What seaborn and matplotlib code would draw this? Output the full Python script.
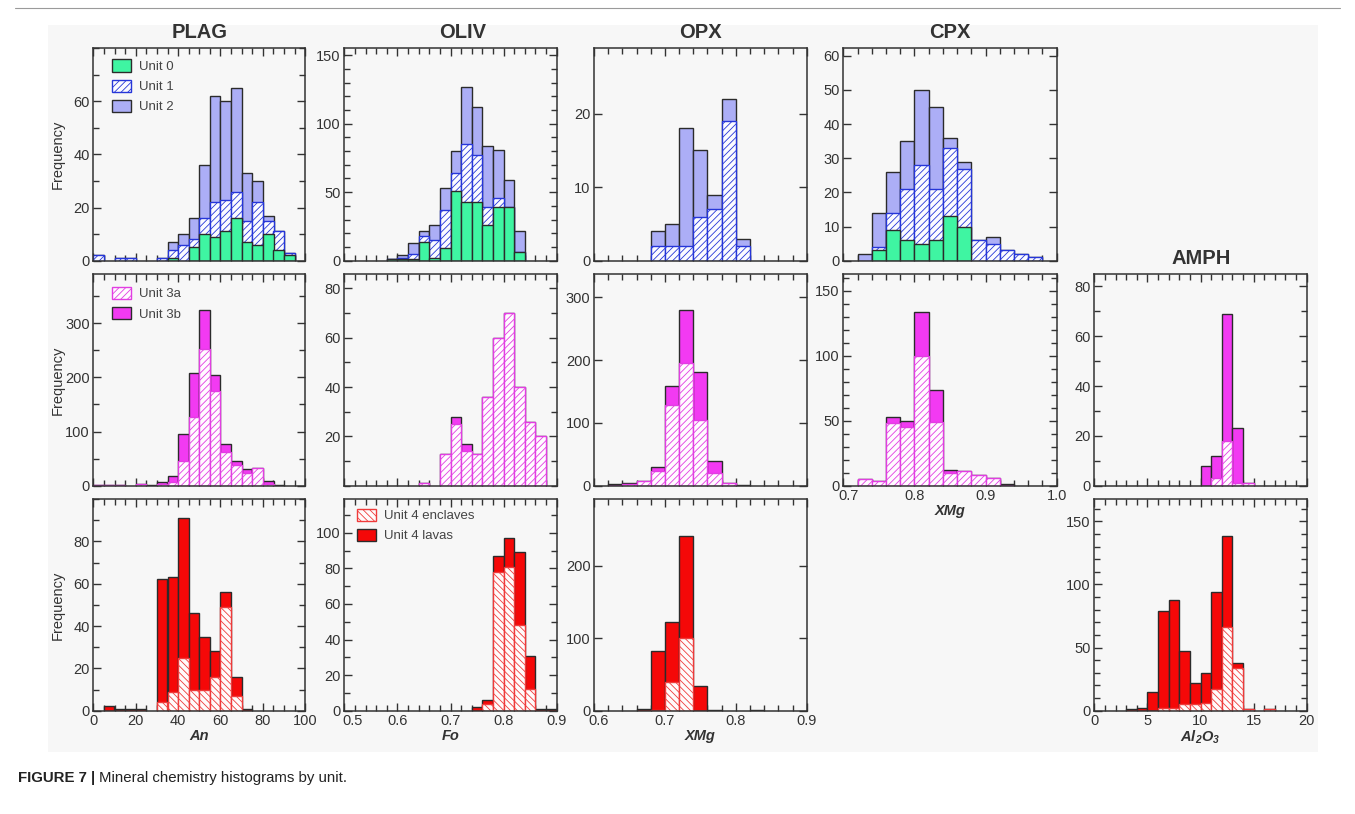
import numpy as np
import pandas as pd
import matplotlib
matplotlib.use("Agg")
import matplotlib.pyplot as plt
import seaborn as sns
from matplotlib.patches import Patch, Rectangle
from matplotlib.lines import Line2D
from matplotlib.transforms import ScaledTranslation
from matplotlib.ticker import MultipleLocator, FixedLocator, FormatStrFormatter, NullLocator

# ---------------- data (counts per bin) ----------------
# Row 1 : Units 0 / 1 / 2
plag1_start, plag1_width = 0, 5
plag1_u0 = [0, 0, 0, 0, 0, 0, 0, 1, 0, 5, 10, 9, 11, 16, 7, 6, 10, 4, 2]
plag1_u1 = [2, 0, 1, 1, 0, 0, 1, 3, 6, 3, 6, 13, 12, 10, 8, 16, 5, 7, 1]
plag1_u2 = [0, 0, 0, 0, 0, 0, 0, 3, 4, 8, 20, 40, 37, 39, 18, 8, 2, 0, 0]

oliv1_start, oliv1_width = 0.58, 0.02
oliv1_u0 = [1, 1, 1, 14, 2, 9, 51, 43, 43, 26, 39, 39, 6]
oliv1_u1 = [0, 1, 4, 4, 13, 28, 13, 42, 34, 13, 7, 0, 0]
oliv1_u2 = [0, 2, 8, 4, 11, 16, 16, 42, 35, 45, 35, 20, 16]

opx1_start, opx1_width = 0.68, 0.02
opx1_u1 = [2, 2, 2, 6, 7, 19, 2]
opx1_u2 = [2, 3, 16, 9, 2, 3, 1]

cpx1_start, cpx1_width = 0.72, 0.02
cpx1_u0 = [0, 3, 9, 6, 5, 6, 13, 10, 0, 0, 0, 0, 0]
cpx1_u1 = [0, 1, 5, 15, 23, 15, 20, 17, 6, 5, 3, 2, 1]
cpx1_u2 = [2, 10, 12, 14, 22, 24, 3, 2, 0, 2, 0, 0, 0]

# Row 2 : Units 3a / 3b
plag2_start, plag2_width = 0, 5
plag2_3a = [1, 1, 1, 0, 3, 0, 4, 6, 46, 126, 252, 174, 62, 39, 23, 33, 4, 0]
plag2_3b = [0, 0, 0, 0, 0, 1, 3, 11, 49, 82, 73, 31, 15, 7, 7, 0, 4, 2]

oliv2_start, oliv2_width = 0.64, 0.02
oliv2_3a = [1, 0, 13, 25, 14, 13, 36, 60, 70, 40, 26, 20]
oliv2_3b = [0, 0, 0, 3, 3, 0, 0, 0, 0, 0, 0, 0]

opx2_start, opx2_width = 0.62, 0.02
opx2_3a = [0, 3, 8, 23, 128, 196, 105, 20, 4, 0]
opx2_3b = [2, 2, 0, 6, 31, 84, 76, 20, 0, 1]

cpx2_start, cpx2_width = 0.72, 0.02
cpx2_3a = [5, 4, 48, 45, 100, 49, 10, 11, 8, 6, 0]
cpx2_3b = [0, 0, 5, 5, 34, 25, 2, 0, 0, 0, 1]

amph2_start, amph2_width = 10, 1
amph2_3a = [0, 3, 18, 1, 1]
amph2_3b = [8, 9, 51, 22, 0]

# Row 3 : Unit 4 enclaves / lavas
plag3_start, plag3_width = 5, 5
plag3_enc = [0, 0, 0, 0, 0, 4, 9, 25, 10, 10, 16, 49, 7, 0]
plag3_lav = [2, 1, 1, 1, 0, 58, 54, 66, 36, 25, 12, 7, 9, 1]

oliv3_start, oliv3_width = 0.74, 0.02
oliv3_enc = [0, 4, 78, 81, 48, 12, 0, 0]
oliv3_lav = [2, 2, 9, 16, 41, 19, 1, 1]

opx3_start, opx3_width = 0.66, 0.02
opx3_enc = [0, 1, 40, 100, 0, 0, 0, 0, 0]
opx3_lav = [2, 81, 83, 141, 34, 1, 0, 0, 1]

amph3_start, amph3_width = 3, 1
amph3_enc = [0, 0, 0, 2, 2, 5, 5, 6, 17, 66, 34, 1, 0, 1]
amph3_lav = [1, 2, 15, 77, 86, 42, 17, 24, 77, 72, 4, 0, 0, 0]

minerals = ["PLAG", "OLIV", "OPX", "CPX"]
unit_labels_1 = ["Unit 0", "Unit 1", "Unit 2"]
unit_labels_2 = ["Unit 3a", "Unit 3b"]
unit_labels_3 = ["Unit 4 enclaves", "Unit 4 lavas"]

# ---------------- styles ----------------
DARK = "#2b2b2b"
STY = {
    "u0": dict(facecolor="#3ff5a2", edgecolor=DARK, hatch=None, lw=1.0),
    "u1": dict(facecolor="#fbfbff", edgecolor="#2636d8", hatch="/////", lw=1.0),
    "u2": dict(facecolor="#acaef6", edgecolor=DARK, hatch=None, lw=1.0),
    "u3a": dict(facecolor="#fffbff", edgecolor="#e23ee2", hatch="/////", lw=1.0),
    "u3b": dict(facecolor="#f23af2", edgecolor=DARK, hatch=None, lw=1.0),
    "enc": dict(facecolor="#fffbfb", edgecolor="#ef3b3b", hatch="\\\\\\\\\\", lw=1.0),
    "lav": dict(facecolor="#f50808", edgecolor=DARK, hatch=None, lw=1.0),
}

sns.set_theme(style="ticks")
plt.rcParams["font.family"] = ["Liberation Sans", "DejaVu Sans"]
plt.rcParams["hatch.linewidth"] = 0.6
plt.rcParams["mathtext.default"] = "regular"

W, H = 1355, 814
fig = plt.figure(figsize=(W / 100, H / 100), dpi=100)
fig.patch.set_facecolor("white")
BG = "#f7f7f7"
fig.patches.append(Rectangle((48 / W, 1 - 752 / H), (1318 - 48) / W, (752 - 25) / H,
                             transform=fig.transFigure, facecolor=BG,
                             edgecolor="none", zorder=-10))
fig.lines.append(Line2D([15 / W, 1340 / W], [1 - 8 / H, 1 - 8 / H],
                        transform=fig.transFigure, color="#9a9a9a", lw=0.8))

COLS = {"PLAG": (93.3, 305.3), "OLIV": (344.3, 556.7), "OPX": (594.0, 806.7),
        "CPX": (843.3, 1056.7), "AMPH": (1094.3, 1306.7)}
TITLE_X = {"PLAG": 200, "OLIV": 463, "OPX": 700, "CPX": 950, "AMPH": 1201}
ROWS = [(48.3, 260.7), (274.0, 485.7), (499.0, 710.7)]
TXT = "#333333"


def make_ax(col, row):
    x0, x1 = COLS[col]
    yt, yb = ROWS[row]
    ax = fig.add_axes([x0 / W, 1 - yb / H, (x1 - x0) / W, (yb - yt) / H])
    ax.set_facecolor(BG)
    for s in ax.spines.values():
        s.set_color(TXT)
        s.set_linewidth(1.1)
    return ax


def hist_layer(ax, start, width, counts, style):
    n = len(counts)
    edges = [float(start + width * k) for k in range(n + 1)]
    centers = [e + width / 2 for e in edges[:-1]]
    df = pd.DataFrame({"x": centers, "w": counts})
    st = STY[style]
    before = len(ax.patches)
    kw = dict(facecolor=st["facecolor"], edgecolor=st["edgecolor"], linewidth=st["lw"])
    if st["hatch"]:
        kw["hatch"] = st["hatch"]
    sns.histplot(data=df, x="x", weights="w", bins=edges, ax=ax, stat="count",
                 element="bars", fill=True, alpha=1, **kw)
    for p, c in zip(ax.patches[before:], counts):
        if c == 0:
            p.set_visible(False)


def stacked(ax, start, width, layers, styles):
    # layers listed bottom -> top; draw cumulative totals from the top down
    cum = np.cumsum(np.array(layers), axis=0)
    for i in range(len(layers) - 1, -1, -1):
        hist_layer(ax, start, width, [int(v) for v in cum[i]], styles[i])


def setup(ax, xlim, xmaj, xmin, ylim, ymaj, ymin, xlabels=False, xfmt=None,
          xlabel=None, ylabel=False):
    ax.set_xlim(*xlim)
    ax.set_ylim(*ylim)
    ax.xaxis.set_major_locator(FixedLocator(xmaj))
    ax.xaxis.set_minor_locator(MultipleLocator(xmin))
    ax.yaxis.set_major_locator(FixedLocator(ymaj))
    if ymin:
        ax.yaxis.set_minor_locator(MultipleLocator(ymin))
    else:
        ax.yaxis.set_minor_locator(NullLocator())
    if xfmt:
        ax.xaxis.set_major_formatter(FormatStrFormatter(xfmt))
    ax.tick_params(which="both", direction="in", top=True, right=True,
                   bottom=True, left=True, color=TXT, labelcolor=TXT,
                   labelsize=10.5, width=1.0, pad=2.5)
    ax.tick_params(which="major", length=6)
    ax.tick_params(which="minor", length=4)
    ax.tick_params(axis="x", labelbottom=xlabels)
    ax.set_xlabel("")
    ax.set_ylabel("")
    if xlabel:
        ax.set_xlabel(xlabel, fontsize=10.5, fontweight="bold", fontstyle="italic",
                      color=TXT)
        ax.xaxis.set_label_coords(0.5, -0.085)
    if ylabel:
        ax.set_ylabel("Frequency", fontsize=10.5, color=TXT)
        ax.yaxis.set_label_coords(-0.135, 0.5)


def nudge_first_xlabel(ax, dx_px):
    lab = ax.xaxis.get_major_ticks()[0].label1
    lab.set_transform(lab.get_transform() + ScaledTranslation(dx_px / 100, 0, fig.dpi_scale_trans))


def add_legend(ax, labels, styles, anchor):
    handles = []
    for lab, s in zip(labels, styles):
        st = STY[s]
        handles.append(Patch(facecolor=st["facecolor"], edgecolor=st["edgecolor"],
                             hatch=st["hatch"], linewidth=1.0, label=lab))
    leg = ax.legend(handles=handles, loc="upper left", bbox_to_anchor=anchor,
                    frameon=False, fontsize=9.5, handlelength=1.45,
                    handleheight=1.05, handletextpad=0.6, labelspacing=0.5,
                    borderpad=0, borderaxespad=0)
    for t in leg.get_texts():
        t.set_color("#444444")


# ---------------- Row 1 ----------------
ax = make_ax("PLAG", 0)
stacked(ax, plag1_start, plag1_width, [plag1_u0, plag1_u1, plag1_u2], ["u0", "u1", "u2"])
setup(ax, (0, 100), [0, 20, 40, 60, 80, 100], 5, (0, 80), [0, 20, 40, 60], 10, ylabel=True)
add_legend(ax, unit_labels_1, ["u0", "u1", "u2"], (0.088, 0.948))

ax = make_ax("OLIV", 0)
stacked(ax, oliv1_start, oliv1_width, [oliv1_u0, oliv1_u1, oliv1_u2], ["u0", "u1", "u2"])
setup(ax, (0.5, 0.9), [0.5, 0.6, 0.7, 0.8, 0.9], 0.02, (0, 155), [0, 50, 100, 150], 10)

ax = make_ax("OPX", 0)
stacked(ax, opx1_start, opx1_width, [opx1_u1, opx1_u2], ["u1", "u2"])
setup(ax, (0.6, 0.9), [0.6, 0.7, 0.8, 0.9], 0.02, (0, 28.9), [0, 10, 20], None)

ax = make_ax("CPX", 0)
stacked(ax, cpx1_start, cpx1_width, [cpx1_u0, cpx1_u1, cpx1_u2], ["u0", "u1", "u2"])
setup(ax, (0.7, 1.0), [0.7, 0.8, 0.9, 1.0], 0.02, (0, 62.2), [0, 10, 20, 30, 40, 50, 60], None)

# ---------------- Row 2 ----------------
ax = make_ax("PLAG", 1)
stacked(ax, plag2_start, plag2_width, [plag2_3a, plag2_3b], ["u3a", "u3b"])
setup(ax, (0, 100), [0, 20, 40, 60, 80, 100], 5, (0, 391), [0, 100, 200, 300], 50, ylabel=True)
add_legend(ax, unit_labels_2, ["u3a", "u3b"], (0.088, 0.94))

ax = make_ax("OLIV", 1)
stacked(ax, oliv2_start, oliv2_width, [oliv2_3a, oliv2_3b], ["u3a", "u3b"])
setup(ax, (0.5, 0.9), [0.5, 0.6, 0.7, 0.8, 0.9], 0.02, (0, 85.8), [20, 40, 60, 80], 10)

ax = make_ax("OPX", 1)
stacked(ax, opx2_start, opx2_width, [opx2_3a, opx2_3b], ["u3a", "u3b"])
setup(ax, (0.6, 0.9), [0.6, 0.7, 0.8, 0.9], 0.02, (0, 337), [0, 100, 200, 300], None)

ax = make_ax("CPX", 1)
stacked(ax, cpx2_start, cpx2_width, [cpx2_3a, cpx2_3b], ["u3a", "u3b"])
setup(ax, (0.7, 1.0), [0.7, 0.8, 0.9, 1.0], 0.02, (0, 163), [0, 50, 100, 150], 10,
      xlabels=True, xfmt="%.1f", xlabel="XMg")
nudge_first_xlabel(ax, 5)

ax = make_ax("AMPH", 1)
stacked(ax, amph2_start, amph2_width, [amph2_3a, amph2_3b], ["u3a", "u3b"])
setup(ax, (0, 20), [0, 5, 10, 15, 20], 1, (0, 85), [0, 20, 40, 60, 80], 10)

# ---------------- Row 3 ----------------
ax = make_ax("PLAG", 2)
stacked(ax, plag3_start, plag3_width, [plag3_enc, plag3_lav], ["enc", "lav"])
setup(ax, (0, 100), [0, 20, 40, 60, 80, 100], 5, (0, 100), [0, 20, 40, 60, 80], 10,
      xlabels=True, xlabel="An", ylabel=True)

ax = make_ax("OLIV", 2)
stacked(ax, oliv3_start, oliv3_width, [oliv3_enc, oliv3_lav], ["enc", "lav"])
setup(ax, (0.5, 0.9), [0.5, 0.6, 0.7, 0.8, 0.9], 0.02, (0, 119), [0, 20, 40, 60, 80, 100], 10,
      xlabels=True, xfmt="%.1f", xlabel="Fo")
nudge_first_xlabel(ax, 8)
add_legend(ax, unit_labels_3, ["enc", "lav"], (0.06, 0.955))

ax = make_ax("OPX", 2)
stacked(ax, opx3_start, opx3_width, [opx3_enc, opx3_lav], ["enc", "lav"])
setup(ax, (0.6, 0.9), [0.6, 0.7, 0.8, 0.9], 0.02, (0, 292), [0, 100, 200], None,
      xlabels=True, xfmt="%.1f", xlabel="XMg")
nudge_first_xlabel(ax, 5)

ax = make_ax("AMPH", 2)
stacked(ax, amph3_start, amph3_width, [amph3_enc, amph3_lav], ["enc", "lav"])
setup(ax, (0, 20), [0, 5, 10, 15, 20], 1, (0, 167.7), [0, 50, 100, 150], 10,
      xlabels=True, xlabel="Al$_2$O$_3$")

# ---------------- titles & caption ----------------
for name in minerals:
    fig.text(TITLE_X[name] / W, 1 - 33 / H, name, ha="center", va="center",
             fontsize=14.5, fontweight="bold", color=TXT)
fig.text(TITLE_X["AMPH"] / W, 1 - 258 / H, "AMPH", ha="center", va="center",
         fontsize=14.5, fontweight="bold", color=TXT)

t1 = fig.text(18 / W, 1 - 778 / H, "FIGURE 7 |", ha="left", va="center",
              fontsize=10.8, fontweight="bold", color="#222222")
fig.canvas.draw()
bb = t1.get_window_extent()
fig.text((bb.x1 + 4) / W, 1 - 778 / H, "Mineral chemistry histograms by unit.",
         ha="left", va="center", fontsize=10.8, color="#222222")

fig.savefig("out.png", dpi=100, facecolor=fig.get_facecolor())
